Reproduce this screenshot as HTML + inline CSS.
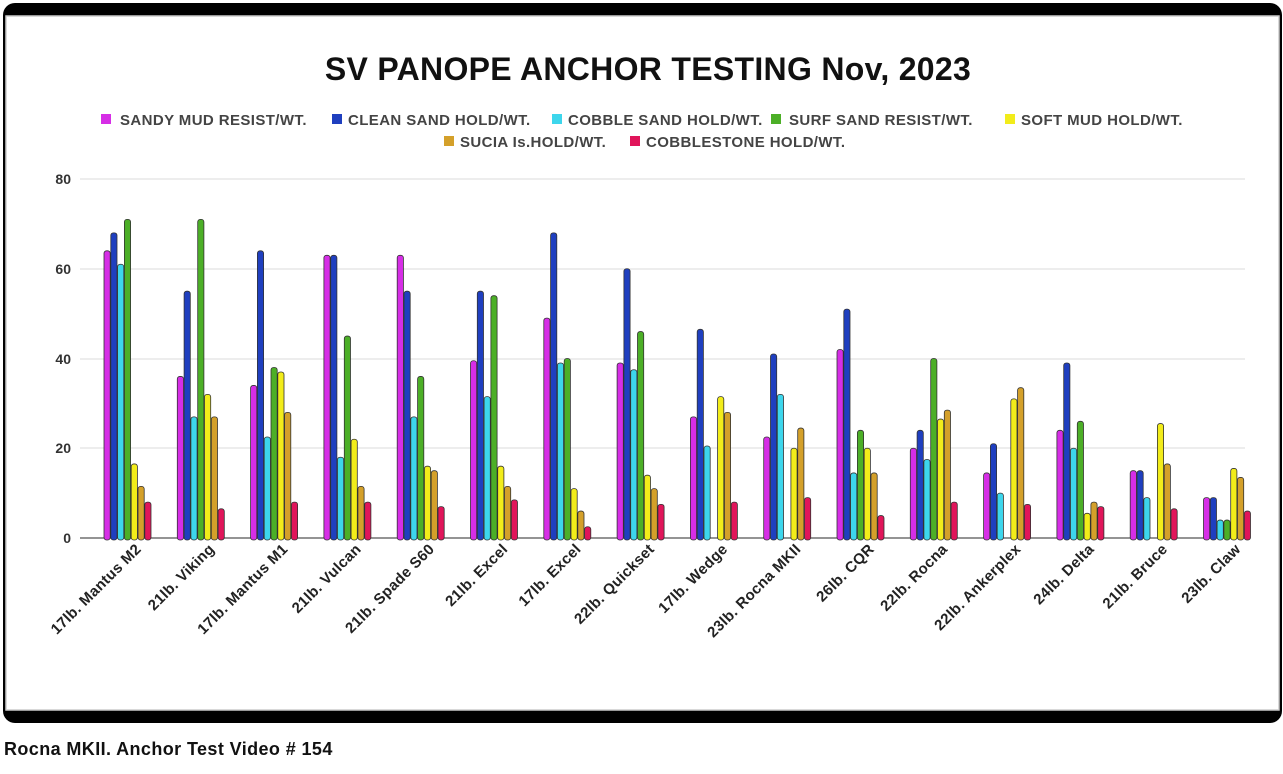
<!DOCTYPE html>
<html><head><meta charset="utf-8"><style>
body{margin:0;width:1283px;height:769px;background:#fff;overflow:hidden;font-family:"Liberation Sans",sans-serif}
</style></head><body>
<svg width="1283" height="769" xmlns="http://www.w3.org/2000/svg" font-family="Liberation Sans, sans-serif">
<rect x="3" y="3" width="1279" height="720" rx="12" fill="#000"/>
<rect x="6" y="16" width="1273" height="694" fill="#fff" stroke="#ccc" stroke-width="1.5"/>
<text x="648" y="80" text-anchor="middle" font-size="32" font-weight="bold" fill="#111" letter-spacing="0.3">SV PANOPE ANCHOR TESTING Nov, 2023</text>
<g font-size="15" font-weight="bold" fill="#444" letter-spacing="0.4">
<rect x="101" y="114" width="10" height="10" fill="#d62ee6"/><text x="120" y="125">SANDY MUD RESIST/WT.</text>
<rect x="332" y="114" width="10" height="10" fill="#1f3fbf"/><text x="348" y="125">CLEAN SAND HOLD/WT.</text>
<rect x="552" y="114" width="10" height="10" fill="#3dd6ec"/><text x="568" y="125">COBBLE SAND HOLD/WT.</text>
<rect x="771" y="114" width="10" height="10" fill="#4caf27"/><text x="789" y="125">SURF SAND RESIST/WT.</text>
<rect x="1005" y="114" width="10" height="10" fill="#f2ec1a"/><text x="1021" y="125">SOFT MUD HOLD/WT.</text>
<rect x="444" y="136" width="10" height="10" fill="#d4a02a"/><text x="460" y="147">SUCIA Is.HOLD/WT.</text>
<rect x="630" y="136" width="10" height="10" fill="#e0155a"/><text x="646" y="147">COBBLESTONE HOLD/WT.</text>
</g>
<g stroke="#e2e2e2" stroke-width="1.2">
<line x1="80" x2="1245" y1="179" y2="179"/><line x1="80" x2="1245" y1="269" y2="269"/>
<line x1="80" x2="1245" y1="359" y2="359"/><line x1="80" x2="1245" y1="448" y2="448"/>
</g>
<line x1="80" x2="1245" y1="538" y2="538" stroke="#555" stroke-width="1.2"/>
<g font-size="14" font-weight="bold" fill="#333" text-anchor="end">
<text x="71" y="184">80</text><text x="71" y="274">60</text><text x="71" y="364">40</text><text x="71" y="453">20</text><text x="71" y="543">0</text>
</g>
<g id="bars"></g>
<g id="labels" font-size="15" font-weight="bold" fill="#222" text-anchor="end"></g>
<text x="4" y="755" font-size="18" font-weight="bold" fill="#111" letter-spacing="0.4">Rocna MKII. Anchor Test Video # 154</text>
<script>
var names=["17lb. Mantus M2","21lb. Viking","17lb. Mantus M1","21lb. Vulcan","21lb. Spade S60","21lb. Excel","17lb. Excel","22lb. Quickset","17lb. Wedge","23lb. Rocna MKII","26lb. CQR","22lb. Rocna","22lb. Ankerplex","24lb. Delta","21lb. Bruce","23lb. Claw"];
var d=[[64,68,61,71,16.5,11.5,8],[36,55,27,71,32,27,6.5],[34,64,22.5,38,37,28,8],[63,63,18,45,22,11.5,8],[63,55,27,36,16,15,7],[39.5,55,31.5,54,16,11.5,8.5],[49,68,39,40,11,6,2.5],[39,60,37.5,46,14,11,7.5],[27,46.5,20.5,0,31.5,28,8],[22.5,41,32,0,20,24.5,9],[42,51,14.5,24,20,14.5,5],[20,24,17.5,40,26.5,28.5,8],[14.5,21,10,0,31,33.5,7.5],[24,39,20,26,5.5,8,7],[15,15,9,0,25.5,16.5,6.5],[9,9,4,4,15.5,13.5,6]];
var c=["#d62ee6","#1f3fbf","#3dd6ec","#4caf27","#f2ec1a","#d4a02a","#e0155a"];
var ns="http://www.w3.org/2000/svg",b=document.getElementById("bars"),l=document.getElementById("labels");
for(var i=0;i<16;i++){var x0=104+i*73.3;
for(var j=0;j<7;j++){var v=d[i][j];if(!v)continue;var h=v*4.4875;var r=document.createElementNS(ns,"rect");
r.setAttribute("x",x0+j*6.8);r.setAttribute("y",538-h);r.setAttribute("width",6.2);r.setAttribute("height",h+2);r.setAttribute("rx",2.5);
r.setAttribute("fill",c[j]);r.setAttribute("stroke","#333");r.setAttribute("stroke-width","0.8");b.appendChild(r);}
var t=document.createElementNS(ns,"text");var cx=x0+38;t.setAttribute("transform","translate("+cx+",550) rotate(-45)");t.setAttribute("letter-spacing","0.3");t.textContent=names[i];l.appendChild(t);}
</script>
</svg>
</body></html>
